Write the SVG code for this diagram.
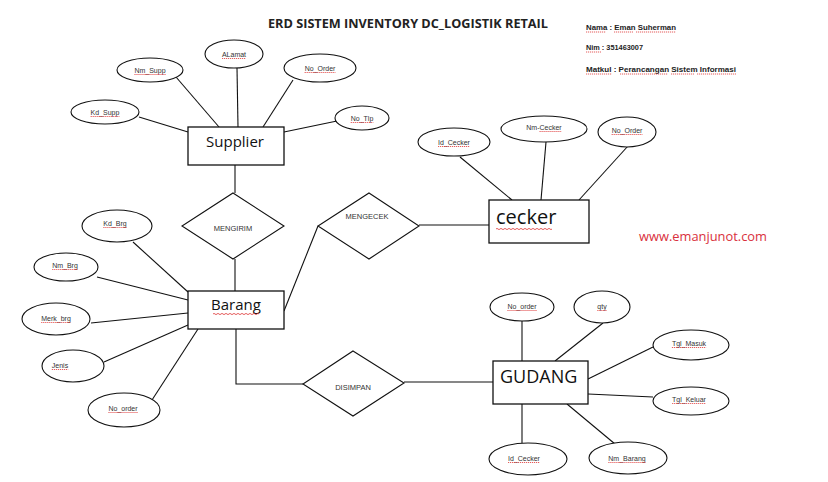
<svg xmlns="http://www.w3.org/2000/svg" width="828" height="482" viewBox="0 0 828 482">
<style>
  .bg{fill:#fff}
  .ent{fill:#fff;stroke:#111;stroke-width:1.3}
  .att{fill:#fff;stroke:#111;stroke-width:1.1}
  .rel{fill:#fff;stroke:#111;stroke-width:1.1}
  .ln{stroke:#111;stroke-width:1.1;fill:none}
  .at{font-family:"Liberation Sans",Arial,sans-serif;font-size:7px;fill:#333;text-anchor:middle}
  .rt{font-family:"Liberation Sans",Arial,sans-serif;font-size:7.5px;fill:#333;text-anchor:middle}
  .et{font-family:"Open Sans","Liberation Sans",Arial,sans-serif;fill:#111}
  .info{font-family:"Liberation Sans",Arial,sans-serif;font-size:8px;font-weight:bold;fill:#222}
  .sq{stroke:#d33;stroke-width:0.8;fill:none}
  .dots{stroke:#d33;stroke-width:0.8;fill:none;stroke-dasharray:1.2 0.8}
</style>
<rect class="bg" x="0" y="0" width="828" height="482"/>

<text x="268" y="28" font-family="'Open Sans','Liberation Sans',Arial,sans-serif" font-size="12.5" font-weight="bold" fill="#222" textLength="280" lengthAdjust="spacingAndGlyphs">ERD SISTEM INVENTORY DC_LOGISTIK RETAIL</text>
<text class="info" x="586" y="30" textLength="90" lengthAdjust="spacingAndGlyphs">Nama : Eman Suherman</text>
<text class="info" x="586" y="50" textLength="57" lengthAdjust="spacingAndGlyphs">Nim : 351463007</text>
<text class="info" x="586" y="72" textLength="150" lengthAdjust="spacingAndGlyphs">Matkul : Perancangan Sistem Informasi</text>
<text x="639" y="241" font-family="'Open Sans','Liberation Sans',Arial,sans-serif" font-size="13" fill="#d9303c" textLength="128" lengthAdjust="spacingAndGlyphs">www.emanjunot.com</text>

<g id="connectors">
  <line class="ln" x1="139" y1="117" x2="188" y2="132"/>
  <line class="ln" x1="176" y1="77" x2="219" y2="127"/>
  <line class="ln" x1="237" y1="68" x2="238" y2="127"/>
  <line class="ln" x1="293" y1="80" x2="263" y2="127"/>
  <line class="ln" x1="337" y1="121" x2="284" y2="132"/>
  <line class="ln" x1="235" y1="165" x2="235" y2="193"/>
  <line class="ln" x1="235" y1="259" x2="235" y2="291"/>
  <line class="ln" x1="284" y1="311" x2="318" y2="226"/>
  <line class="ln" x1="419" y1="225" x2="489" y2="225"/>
  <polyline class="ln" points="236,329 236,384 303,384"/>
  <line class="ln" x1="404" y1="382" x2="493" y2="382"/>
  <line class="ln" x1="460" y1="157" x2="512" y2="200"/>
  <line class="ln" x1="546" y1="142" x2="541" y2="200"/>
  <line class="ln" x1="628" y1="146" x2="579" y2="200"/>
  <line class="ln" x1="133" y1="242" x2="188" y2="292"/>
  <line class="ln" x1="97" y1="277" x2="188" y2="300"/>
  <line class="ln" x1="91" y1="323" x2="188" y2="313"/>
  <line class="ln" x1="104" y1="362" x2="188" y2="325"/>
  <line class="ln" x1="152" y1="400" x2="198" y2="329"/>
  <line class="ln" x1="522" y1="321" x2="522" y2="361"/>
  <line class="ln" x1="603" y1="323" x2="555" y2="361"/>
  <line class="ln" x1="653" y1="347" x2="588" y2="379"/>
  <line class="ln" x1="653" y1="397" x2="588" y2="394"/>
  <line class="ln" x1="522" y1="404" x2="522" y2="443"/>
  <line class="ln" x1="567" y1="404" x2="615" y2="444"/>
</g>

<g id="supplier">
  <rect class="ent" x="188" y="127" width="96" height="38"/>
  <text class="et" x="235" y="147" font-size="15" text-anchor="middle">Supplier</text>
</g>
<g id="barang">
  <rect class="ent" x="188" y="291" width="96" height="38"/>
  <text class="et" x="236" y="310" font-size="15" text-anchor="middle">Barang</text>
  <path class="sq" d="M213,314 q1,-1.2 2,0 t2,0 t2,0 t2,0 t2,0 t2,0 t2,0 t2,0 t2,0 t2,0 t2,0 t2,0 t2,0 t2,0 t2,0 t2,0 t2,0 t2,0 t2,0 t2,0 t2,0 t2,0 t2,0"/>
</g>
<g id="cecker">
  <rect class="ent" x="489" y="200" width="100" height="43"/>
  <text class="et" x="496" y="224" font-size="20">cecker</text>
  <path class="sq" d="M496,229 q1,-1.2 2,0 t2,0 t2,0 t2,0 t2,0 t2,0 t2,0 t2,0 t2,0 t2,0 t2,0 t2,0 t2,0 t2,0 t2,0 t2,0 t2,0 t2,0 t2,0 t2,0 t2,0 t2,0 t2,0 t2,0 t2,0 t2,0 t2,0 t2,0"/>
</g>
<g id="gudang">
  <rect class="ent" x="493" y="361" width="95" height="43"/>
  <text class="et" x="500" y="383" font-size="18">GUDANG</text>
</g>

<g id="mengirim">
  <polygon class="rel" points="233,193 284,226 233,259 182,226"/>
  <text class="rt" x="233" y="231">MENGIRIM</text>
</g>
<g id="mengecek">
  <polygon class="rel" points="369,193 419,226 369,259 318,226"/>
  <text class="rt" x="367" y="219">MENGECEK</text>
</g>
<g id="disimpan">
  <polygon class="rel" points="353,351 404,383 353,416 303,384"/>
  <text class="rt" x="353" y="390">DISIMPAN</text>
</g>

<g id="att-kd-supp"><ellipse class="att" cx="105" cy="112" rx="34" ry="12"/><text class="at" x="105" y="115">Kd_Supp</text></g>
<g id="att-nm-supp"><ellipse class="att" cx="150" cy="70" rx="33" ry="12"/><text class="at" x="150" y="73">Nm_Supp</text></g>
<g id="att-alamat"><ellipse class="att" cx="234" cy="54" rx="29" ry="14"/><text class="at" x="234" y="57">ALamat</text></g>
<g id="att-no-order-s"><ellipse class="att" cx="320" cy="68" rx="36" ry="14"/><text class="at" x="320" y="71">No_Order</text></g>
<g id="att-no-tlp"><ellipse class="att" cx="362" cy="118" rx="27" ry="12"/><text class="at" x="362" y="121">No_Tlp</text></g>

<g id="att-id-cecker-c"><ellipse class="att" cx="454" cy="142" rx="36" ry="14"/><text class="at" x="454" y="145">Id_Cecker</text></g>
<g id="att-nm-cecker"><ellipse class="att" cx="544" cy="129" rx="43" ry="13"/><text class="at" x="544" y="130">Nm-Cecker</text></g>
<g id="att-no-order-c"><ellipse class="att" cx="627" cy="132" rx="29" ry="15"/><text class="at" x="627" y="133">No_Order</text></g>

<g id="att-kd-brg"><ellipse class="att" cx="117" cy="226" rx="35" ry="16"/><text class="at" x="115" y="226">Kd_Brg</text></g>
<g id="att-nm-brg"><ellipse class="att" cx="66" cy="267" rx="32" ry="14"/><text class="at" x="65" y="268">Nm_Brg</text></g>
<g id="att-merk-brg"><ellipse class="att" cx="56" cy="319" rx="34" ry="16"/><text class="at" x="56" y="321">Merk_brg</text></g>
<g id="att-jenis"><ellipse class="att" cx="73" cy="366" rx="31" ry="16"/><text class="at" x="60" y="368">Jenis</text></g>
<g id="att-no-order-b"><ellipse class="att" cx="124" cy="410" rx="36" ry="17"/><text class="at" x="123" y="411">No_order</text></g>

<g id="att-no-order-g"><ellipse class="att" cx="522" cy="307" rx="32" ry="14"/><text class="at" x="522" y="309">No_order</text></g>
<g id="att-qty"><ellipse class="att" cx="602" cy="307" rx="28" ry="16"/><text class="at" x="602" y="309">qty</text></g>
<g id="att-tgl-masuk"><ellipse class="att" cx="691" cy="345" rx="38" ry="15"/><text class="at" x="689" y="346">Tgl_Masuk</text></g>
<g id="att-tgl-keluar"><ellipse class="att" cx="691" cy="401" rx="38" ry="14"/><text class="at" x="689" y="402">Tgl_Keluar</text></g>
<g id="att-id-cecker-g"><ellipse class="att" cx="528" cy="459" rx="39" ry="16"/><text class="at" x="524" y="461">Id_Cecker</text></g>
<g id="att-nm-barang"><ellipse class="att" cx="628" cy="458" rx="39" ry="16"/><text class="at" x="627" y="461">Nm_Barang</text></g>

<g id="spellcheck-marks">
  <path class="dots" d="M90.6,116.5H119.4 M134.4,74.5H165.6 M222,58.5H246 M304.6,72.5H335.4 M350.7,122.5H373.3 M438,146.5H470 M539.5,131.5H561.7 M611.6,134.5H642.4 M103.3,227.5H126.7 M52.2,269.5H77.8 M41.2,322.5H70.8 M51.8,369.5H68.2 M108.4,412.5H137.6 M507.4,310.5H536.6 M597.3,310.5H606.7 M671.9,347.5H706.1 M672.1,403.5H705.9 M508,462.5H540 M608.3,462.5H645.7"/>
  <path class="dots" d="M586,32H606 M614,32H633 M636,32H676 M586,52H601 M586,74H612 M620,74H668 M671,74H694 M697,74H736"/>
</g>
</svg>
